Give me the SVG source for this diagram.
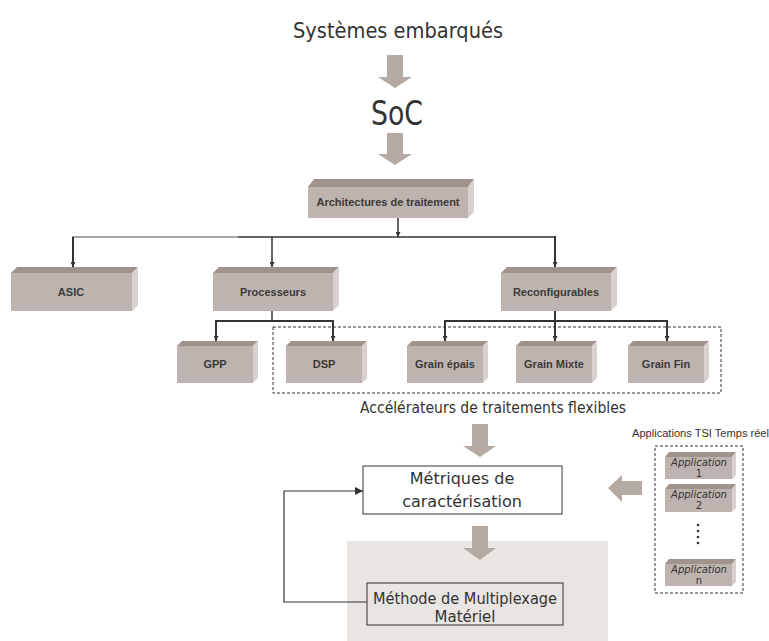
<svg xmlns="http://www.w3.org/2000/svg" width="769" height="641" viewBox="0 0 769 641">
<style>
.front{fill:#BEB4AF}
.top{fill:#A0928D}
.side{fill:#D9D1CD}
.lbl{font-family:"Liberation Sans",Arial,sans-serif;font-weight:bold;font-size:11px;fill:#3a3a3a;text-anchor:middle}
.big{font-family:"DejaVu Sans",Verdana,sans-serif;fill:#333;text-anchor:middle}
.app{font-family:"DejaVu Sans",Verdana,sans-serif;font-style:italic;font-size:10px;fill:#333;text-anchor:middle}
.num{font-family:"DejaVu Sans",Verdana,sans-serif;font-size:10px;fill:#333;text-anchor:middle}
.fat{fill:#B4A9A3}
.ln{stroke:#333;stroke-width:1.5;fill:none}
.lnb{stroke:#333;stroke-width:2;fill:none}
.dash{stroke:#333;stroke-width:1;fill:none;stroke-dasharray:3 2}
</style>
<defs>
<marker id="ah" viewBox="0 0 8 8" refX="8" refY="4" markerWidth="5" markerHeight="5" markerUnits="userSpaceOnUse" orient="auto">
<path d="M0,0 L8,4 L0,8 z" fill="#333"/>
</marker>
<marker id="ah2" viewBox="0 0 8 8" refX="8" refY="4" markerWidth="8" markerHeight="8" markerUnits="userSpaceOnUse" orient="auto">
<path d="M0,0 L8,4 L0,8 z" fill="#333"/>
</marker>
</defs>

<!-- background panel -->
<rect x="347" y="541" width="261" height="100" fill="#E9E5E2"/>

<!-- fat arrows -->
<g id="fat-arrows">
<polygon class="fat" points="387,55 403,55 403,77 412,77 395,88 378,77 387,77"/>
<polygon class="fat" points="387,133 403,133 403,154 412,154 395,165 378,154 387,154"/>
<polygon class="fat" points="472,424 488,424 488,446 496,446 480,457 463,446 472,446"/>
<polygon class="fat" points="472,526 488,526 488,548 496,548 480,560 463,548 472,548"/>
<polygon class="fat" points="642,481 622,481 622,475 608,488 622,502 622,495 642,495"/>
</g>

<!-- titles -->
<text class="big" x="398" y="38" font-size="22" textLength="210" lengthAdjust="spacingAndGlyphs">Systèmes embarqués</text>
<text class="big" x="397" y="125" font-size="33" textLength="52" lengthAdjust="spacingAndGlyphs">SoC</text>
<text class="big" x="493" y="413" font-size="15.5" textLength="266" lengthAdjust="spacingAndGlyphs">Accélérateurs de traitements flexibles</text>
<text x="632" y="437" font-family="'Liberation Sans',Arial,sans-serif" font-size="10.5" fill="#333" textLength="137" lengthAdjust="spacingAndGlyphs">Applications TSI Temps réel</text>

<!-- dashed groupings -->
<rect class="dash" x="273" y="327" width="448" height="66"/>
<rect class="dash" x="655" y="446" width="88" height="147"/>

<!-- connectors -->
<g id="connectors">
<line x1="398" y1="218" x2="398" y2="237" class="ln" marker-end="url(#ah)"/>
<line x1="72" y1="237" x2="238" y2="237" stroke="#8a8a8a" stroke-width="1.5"/>
<line x1="238" y1="237" x2="556" y2="237" class="ln"/>
<line x1="73" y1="237" x2="73" y2="267" class="lnb" marker-end="url(#ah)"/>
<line x1="272" y1="237" x2="272" y2="267" class="ln" marker-end="url(#ah)"/>
<line x1="555" y1="236" x2="555" y2="267" class="lnb" marker-end="url(#ah)"/>

<line x1="272" y1="311" x2="272" y2="321" class="ln"/>
<polyline points="216,341 216,321 333,321 333,341" class="lnb" marker-end="url(#ah)"/>
<line x1="216" y1="321" x2="216" y2="341" class="lnb" marker-end="url(#ah)"/>

<line x1="555" y1="311" x2="555" y2="341" class="lnb" marker-end="url(#ah)"/>
<polyline points="445,341 445,321 667,321 667,341" class="lnb" marker-end="url(#ah)"/>
<line x1="445" y1="321" x2="445" y2="341" class="lnb" marker-end="url(#ah)"/>

<polyline points="367,602 284,602 284,491 363,491" stroke="#333" stroke-width="1.2" fill="none" marker-end="url(#ah2)"/>
</g>

<!-- Architectures de traitement -->
<g id="n-archi">
<polygon class="top" points="308,187 314,179 474,179 468,187"/>
<polygon class="side" points="468,187 474,179 474,212 468,218"/>
<rect class="front" x="308" y="187" width="160" height="31"/>
<text class="lbl" x="388" y="206">Architectures de traitement</text>
</g>

<g id="n-asic">
<polygon class="top" points="11,273 17,267 138,267 132,273"/>
<polygon class="side" points="132,273 138,267 138,305 132,311"/>
<rect class="front" x="11" y="273" width="121" height="38"/>
<text class="lbl" x="71" y="296">ASIC</text>
</g>

<g id="n-proc">
<polygon class="top" points="213,273 219,267 339,267 333,273"/>
<polygon class="side" points="333,273 339,267 339,305 333,311"/>
<rect class="front" x="213" y="273" width="120" height="38"/>
<text class="lbl" x="273" y="296">Processeurs</text>
</g>

<g id="n-reconf">
<polygon class="top" points="501,273 507,267 617,267 611,273"/>
<polygon class="side" points="611,273 617,267 617,305 611,311"/>
<rect class="front" x="501" y="273" width="110" height="38"/>
<text class="lbl" x="556" y="296">Reconfigurables</text>
</g>

<g id="n-gpp">
<polygon class="top" points="177,346 182,341 258,341 253,346"/>
<polygon class="side" points="253,346 258,341 258,378 253,383"/>
<rect class="front" x="177" y="346" width="76" height="37"/>
<text class="lbl" x="215" y="368">GPP</text>
</g>

<g id="n-dsp">
<polygon class="top" points="286,346 291,341 367,341 362,346"/>
<polygon class="side" points="362,346 367,341 367,378 362,383"/>
<rect class="front" x="286" y="346" width="76" height="37"/>
<text class="lbl" x="324" y="368">DSP</text>
</g>

<g id="n-epais">
<polygon class="top" points="407,346 412,341 488,341 483,346"/>
<polygon class="side" points="483,346 488,341 488,378 483,383"/>
<rect class="front" x="407" y="346" width="76" height="37"/>
<text class="lbl" x="445" y="368">Grain épais</text>
</g>

<g id="n-mixte">
<polygon class="top" points="516,346 521,341 597,341 592,346"/>
<polygon class="side" points="592,346 597,341 597,378 592,383"/>
<rect class="front" x="516" y="346" width="76" height="37"/>
<text class="lbl" x="554" y="368">Grain Mixte</text>
</g>

<g id="n-fin">
<polygon class="top" points="628,346 633,341 709,341 704,346"/>
<polygon class="side" points="704,346 709,341 709,378 704,383"/>
<rect class="front" x="628" y="346" width="76" height="37"/>
<text class="lbl" x="666" y="368">Grain Fin</text>
</g>

<g id="n-metriques">
<rect x="363" y="466" width="199" height="48" fill="#fff" stroke="#333" stroke-width="1"/>
<text class="big" x="462" y="484" font-size="16">Métriques de</text>
<text class="big" x="462" y="507" font-size="16">caractérisation</text>
</g>

<g id="n-methode">
<rect x="367" y="583" width="196" height="42" fill="#E9E5E2" stroke="#333" stroke-width="1"/>
<text class="big" x="465" y="604" font-size="15" textLength="184" lengthAdjust="spacingAndGlyphs">Méthode de Multiplexage</text>
<text class="big" x="465" y="622" font-size="15">Matériel</text>
</g>

<g id="n-app1">
<polygon class="top" points="665,457 669,452 736,452 732,457"/>
<polygon class="side" points="732,457 736,452 736,475 732,479"/>
<rect class="front" x="665" y="457" width="67" height="22"/>
<text class="app" x="699" y="466">Application</text>
<text class="num" x="699" y="477">1</text>
</g>

<g id="n-app2">
<polygon class="top" points="665,489 669,484 736,484 732,489"/>
<polygon class="side" points="732,489 736,484 736,508 732,512"/>
<rect class="front" x="665" y="489" width="67" height="23"/>
<text class="app" x="699" y="498">Application</text>
<text class="num" x="699" y="509">2</text>
</g>

<g id="dots" fill="#333">
<circle cx="698" cy="525" r="1.3"/>
<circle cx="698" cy="531" r="1.3"/>
<circle cx="698" cy="537" r="1.3"/>
<circle cx="698" cy="543" r="1.3"/>
</g>

<g id="n-appn">
<polygon class="top" points="665,564 669,559 736,559 732,564"/>
<polygon class="side" points="732,564 736,559 736,582 732,586"/>
<rect class="front" x="665" y="564" width="67" height="22"/>
<text class="app" x="699" y="573">Application</text>
<text class="num" x="699" y="584">n</text>
</g>
</svg>
